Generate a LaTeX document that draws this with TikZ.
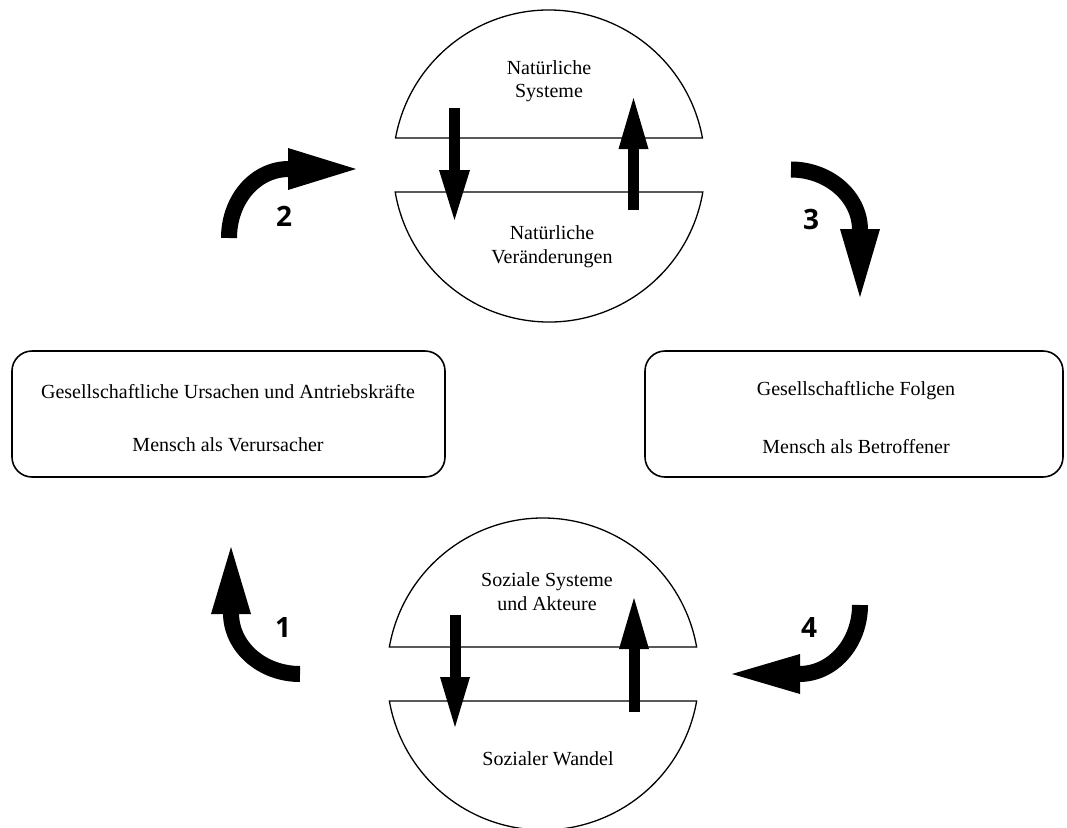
\documentclass[tikz,border=0pt]{standalone}
\usepackage{fontspec}
\setmainfont{Liberation Serif}
\newfontfamily\numfont{Open Sans}
\begin{document}
\begin{tikzpicture}[x=1pt,y=-1pt,
  txt/.style={font=\fontsize{20}{24}\selectfont, anchor=base, inner sep=0pt},
  num/.style={font=\numfont\bfseries\fontsize{28}{30}\selectfont, inner sep=0pt, anchor=center},
  half/.style={draw=black, line width=1.3pt, line join=miter},
  box/.style={draw=black, line width=1.6pt, rounded corners=20pt, inner sep=0pt},
  shaft/.style={line width=11pt},
  curv/.style={line width=16pt},
]
\useasboundingbox (0,0) rectangle (1067,827);

% ---------- boxes ----------
\node[box, minimum width=433pt, minimum height=126pt] (lbox) at (228.5,414) {};
\node[box, minimum width=418pt, minimum height=126pt] (rbox) at (854,414) {};
\node[txt] (l1) at (228,398) {Gesellschaftliche Ursachen und Antriebskräfte};
\node[txt] (l2) at (228,451) {Mensch als Verursacher};
\node[txt] (r1) at (856,395) {Gesellschaftliche Folgen};
\node[txt] (r2) at (856,453) {Mensch als Betroffener};

% ---------- top split circle ----------
\draw[half] (395.53,138) arc[start angle=190.34, end angle=349.66, radius=156] -- cycle;
\draw[half] (702.82,192) arc[start angle=9.59, end angle=170.41, radius=156] -- cycle;
\node[txt] (t1) at (549,74) {Natürliche};
\node[txt] (t2) at (549,97.5) {Systeme};
\node[txt] (t3) at (552,239) {Natürliche};
\node[txt] (t4) at (552,263) {Veränderungen};
\coordinate (td1) at (454.5,108);
\coordinate (td2) at (454.5,172);
\coordinate (tu1) at (633.5,210);
\coordinate (tu2) at (633.5,147);
\draw[shaft] (td1) -- (td2);
\fill (439,170) -- (470,170) -- (454.5,220) -- cycle;
\draw[shaft] (tu1) -- (tu2);
\fill (618.5,149) -- (648.5,149) -- (633.5,98) -- cycle;

% ---------- bottom split circle ----------
\draw[half] (389.35,647) arc[start angle=189.97, end angle=350.03, radius=156] -- cycle;
\draw[half] (696.65,701) arc[start angle=9.97, end angle=170.03, radius=156] -- cycle;
\node[txt] (b1) at (547,586) {Soziale Systeme};
\node[txt] (b2) at (547,610) {und Akteure};
\node[txt] (b3) at (548,765) {Sozialer Wandel};
\coordinate (bd1) at (455,615);
\coordinate (bd2) at (455,679);
\coordinate (bu1) at (634,712);
\coordinate (bu2) at (634,647);
\draw[shaft] (bd1) -- (bd2);
\fill (440,677) -- (470,677) -- (455,727) -- cycle;
\draw[shaft] (bu1) -- (bu2);
\fill (619,649) -- (649,649) -- (634,598) -- cycle;

% ---------- curved block arrows ----------
% 2
\coordinate (a2s) at (229,238);
\coordinate (a2e) at (289,169);
\draw[curv] (a2s) .. controls (229,200) and (255,169) .. (a2e);
\fill (288,148) -- (288,190) -- (356,169) -- cycle;
% 3
\coordinate (a3s) at (791,169.5);
\coordinate (a3e) at (860,230);
\draw[curv] (a3s) .. controls (828,169.5) and (860,196) .. (a3e);
\fill (840,229) -- (880,229) -- (860,297) -- cycle;
% 1
\coordinate (a1s) at (300,674);
\coordinate (a1e) at (231,613);
\draw[curv] (a1s) .. controls (262,674) and (231,647) .. (a1e);
\fill (211,614) -- (251,614) -- (231,547) -- cycle;
% 4
\coordinate (a4s) at (860,605);
\coordinate (a4e) at (799,674);
\draw[curv] (a4s) .. controls (860,643) and (833,674) .. (a4e);
\fill (800,654) -- (800,694) -- (732,674) -- cycle;

% ---------- numbers ----------
\node[num] (n1) at (283,627) {1};
\node[num] (n2) at (284,216) {2};
\node[num] (n3) at (811,219) {3};
\node[num] (n4) at (809,627) {4};
\end{tikzpicture}
\end{document}
